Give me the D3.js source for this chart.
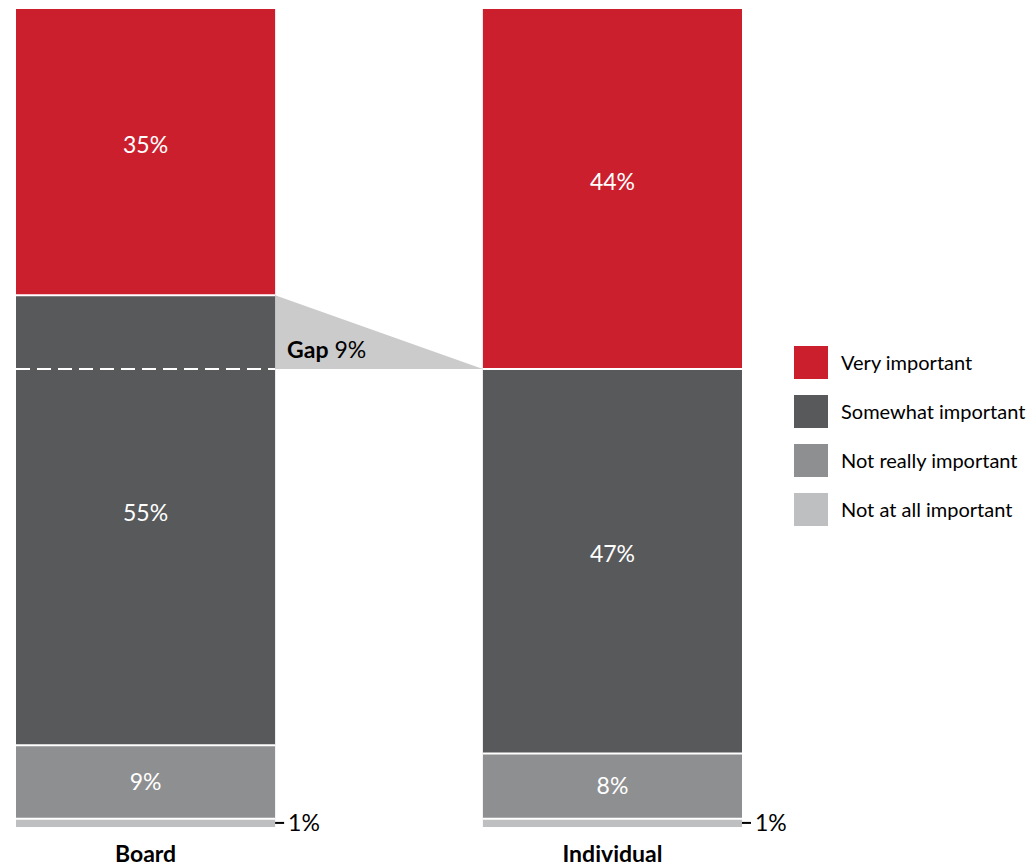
<!DOCTYPE html>
<html>
<head>
<meta charset="utf-8">
<script src="https://cdn.jsdelivr.net/npm/d3@7"></script>
<style>
	body { margin: 0; background: #fff; }
	text { font-family: Lato, "Open Sans", sans-serif; }
</style>
</head>
<body>
<svg id="chart" width="1030" height="867"></svg>
<script>
	// chart data
	var groups = ["Board", "Individual"];
	var levels = ["Very important", "Somewhat important", "Not really important", "Not at all important"];
	var board = [35, 55, 9, 1];
	var individual = [44, 47, 8, 1];
	var colors = ["#cc1f2e", "#58595b", "#8e8f91", "#bebfc1"];
	var gapLabel = "9%";

	var svg = d3.select("#chart"),
		values = { Board: board, Individual: individual };

	var x = d3.scaleBand()
		.domain(groups)
		.range([16, 742])
		.paddingInner(0.445)
		.paddingOuter(0);

	var y = d3.scaleLinear()
		.domain([0, 100])
		.range([827, 9]);

	// stack each group top-down: first level at the top
	function stackOf(g) {
		var top = 100, out = [];
		values[g].forEach(function(v, i) {
			out.push({ group: g, level: levels[i], i: i, v: v, y0: top, y1: top - v });
			top -= v;
		});
		return out;
	}
	var segs = [];
	groups.forEach(function(g){ segs = segs.concat(stackOf(g)); });

	// gap wedge between board "very important" and individual "very important"
	var bTop = 100 - board[0], iTop = 100 - individual[0];
	svg.append("path")
		.attr("d", d3.line()([
			[x("Board") + x.bandwidth(), y(bTop)],
			[x("Individual"), y(iTop)],
			[x("Board") + x.bandwidth(), y(iTop)]
		]) + "Z")
		.attr("fill", "#cbcbcb");

	svg.selectAll("rect.seg")
		.data(segs)
		.enter()
		.append("rect")
		.attr("class", "seg")
		.attr("x", function(d){ return x(d.group); })
		.attr("width", x.bandwidth())
		.attr("y", function(d){ return y(d.y0); })
		.attr("height", function(d){ return y(d.y1) - y(d.y0); })
		.attr("fill", function(d){ return colors[d.i]; });

	// white separators between segments
	svg.selectAll("line.sep")
		.data(segs.filter(function(d){ return d.i > 0; }))
		.enter()
		.append("line")
		.attr("class", "sep")
		.attr("x1", function(d){ return x(d.group); })
		.attr("x2", function(d){ return x(d.group) + x.bandwidth(); })
		.attr("y1", function(d){ return y(d.y0); })
		.attr("y2", function(d){ return y(d.y0); })
		.attr("stroke", "#fff")
		.attr("stroke-width", 2);

	// dashed line marking individual's level inside board bar
	svg.append("line")
		.attr("x1", x("Board"))
		.attr("x2", x("Board") + x.bandwidth())
		.attr("y1", y(iTop))
		.attr("y2", y(iTop))
		.attr("stroke", "#fff")
		.attr("stroke-width", 2)
		.attr("stroke-dasharray", "14,7");

	var gapText = svg.append("text")
		.attr("x", x("Board") + x.bandwidth() + 12)
		.attr("y", y(iTop) - 11)
		.attr("font-size", 23)
		.attr("fill", "#000");
	gapText.append("tspan").attr("font-weight", "bold").text("Gap");
	gapText.append("tspan").text(" " + gapLabel);

	// in-bar value labels
	svg.selectAll("text.val")
		.data(segs.filter(function(d){ return d.v > 2; }))
		.enter()
		.append("text")
		.attr("class", "val")
		.attr("x", function(d){ return x(d.group) + x.bandwidth()/2; })
		.attr("y", function(d){ return (y(d.y0) + y(d.y1))/2 - (d.v > 20 ? 7 : 0); })
		.attr("dy", "0.35em")
		.attr("text-anchor", "middle")
		.attr("font-size", 23)
		.attr("fill", "#fff")
		.text(function(d){ return d.v + "%"; });

	// small segments get an outside callout
	var small = segs.filter(function(d){ return d.v <= 2; });
	svg.selectAll("line.call")
		.data(small)
		.enter()
		.append("line")
		.attr("class", "call")
		.attr("x1", function(d){ return x(d.group) + x.bandwidth(); })
		.attr("x2", function(d){ return x(d.group) + x.bandwidth() + 9; })
		.attr("y1", function(d){ return (y(d.y0) + y(d.y1))/2; })
		.attr("y2", function(d){ return (y(d.y0) + y(d.y1))/2; })
		.attr("stroke", "#000")
		.attr("stroke-width", 2);
	svg.selectAll("text.call")
		.data(small)
		.enter()
		.append("text")
		.attr("class", "call")
		.attr("x", function(d){ return x(d.group) + x.bandwidth() + 13; })
		.attr("y", function(d){ return (y(d.y0) + y(d.y1))/2; })
		.attr("dy", "0.35em")
		.attr("font-size", 23)
		.attr("fill", "#000")
		.text(function(d){ return d.v + "%"; });

	// category labels
	svg.selectAll("text.cat")
		.data(groups)
		.enter()
		.append("text")
		.attr("class", "cat")
		.attr("x", function(d){ return x(d) + x.bandwidth()/2; })
		.attr("y", 862)
		.attr("text-anchor", "middle")
		.attr("font-size", 23)
		.attr("font-weight", "bold")
		.attr("fill", "#000")
		.text(function(d){ return d; });

	// legend
	var legend = svg.append("g").attr("transform", "translate(794,346)");
	var item = legend.selectAll("g")
		.data(levels)
		.enter()
		.append("g")
		.attr("transform", function(d, i){ return "translate(0," + (i*49) + ")"; });
	item.append("rect")
		.attr("width", 34)
		.attr("height", 33)
		.attr("fill", function(d, i){ return colors[i]; });
	item.append("text")
		.attr("x", 47)
		.attr("y", 17)
		.attr("dy", "0.35em")
		.attr("font-size", 20)
		.attr("fill", "#000")
		.text(function(d){ return d; });
</script>
</body>
</html>
